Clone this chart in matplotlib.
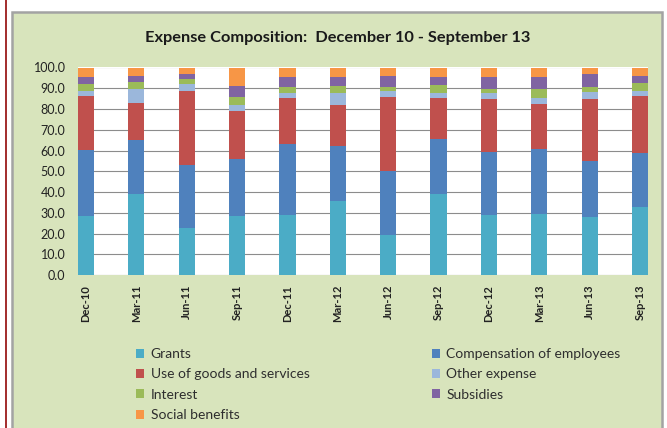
import numpy as np
import matplotlib
matplotlib.use("Agg")
import matplotlib.pyplot as plt
import matplotlib.patches as mpatches
from matplotlib.lines import Line2D

plt.rcParams["font.family"] = ["Lato", "DejaVu Sans"]

# ── data (percent of total expense) ─────────────────────────
quarters = ["Dec-10", "Mar-11", "Jun-11", "Sep-11", "Dec-11", "Mar-12",
            "Jun-12", "Sep-12", "Dec-12", "Mar-13", "Jun-13", "Sep-13"]

grants    = [28.2, 38.8, 22.8, 28.4, 28.9, 35.9, 19.1, 38.8, 28.7, 29.5, 27.9, 32.7]
comp_emp  = [31.9, 26.4, 30.3, 27.3, 34.1, 26.1, 31.1, 26.8, 30.8, 31.3, 27.1, 26.2]
goods     = [26.2, 17.9, 35.4, 23.3, 22.3, 19.8, 35.4, 19.7, 25.5, 21.7, 29.7, 27.4]
other_exp = [2.5, 6.4, 3.5, 2.8, 2.6, 5.8, 2.9, 2.3, 2.6, 2.8, 3.5, 2.2]
interest  = [3.2, 3.5, 2.3, 4.2, 2.5, 3.5, 2.2, 3.8, 2.2, 4.2, 2.2, 3.8]
subsidies = [3.5, 2.9, 2.5, 5.1, 5.1, 4.4, 5.2, 3.8, 5.7, 5.7, 6.4, 3.6]
social    = [4.5, 4.1, 3.2, 8.9, 4.5, 4.5, 4.1, 4.8, 4.5, 4.8, 3.2, 4.1]

series = [
    ("Grants",                    grants,    "#4BACC6"),
    ("Compensation of employees", comp_emp,  "#4F81BD"),
    ("Use of goods and services", goods,     "#C0504D"),
    ("Other expense",             other_exp, "#9BB7DB"),
    ("Interest",                  interest,  "#9BBB59"),
    ("Subsidies",                 subsidies, "#8064A2"),
    ("Social benefits",           social,    "#F79646"),
]

PANEL_BG = "#D8E4BC"

fig = plt.figure(figsize=(6.67, 4.28), dpi=100)
fig.patch.set_facecolor("white")

# outer decoration: dark red rule + green chart panel
fig.add_artist(Line2D([5.5 / 667, 5.5 / 667], [0, 1], color="#9B1B1B",
                      linewidth=1.3, transform=fig.transFigure))
fig.add_artist(mpatches.Rectangle((12 / 667, -0.01), 650 / 667, 1 - 12 / 428 + 0.01,
                                  transform=fig.transFigure, facecolor=PANEL_BG,
                                  edgecolor="#A3A3A3", linewidth=1.8, zorder=0))

ax = fig.add_axes([78 / 667, 1 - 275 / 428, 570 / 667, 207.5 / 428])
ax.set_facecolor("white")

x = np.arange(len(quarters))
width = 0.32
bottom = np.zeros(len(quarters))
handles = {}
for name, vals, color in series:
    vals = np.array(vals)
    b = ax.bar(x, vals, width=width, bottom=bottom, color=color,
               edgecolor="none", zorder=3)
    handles[name] = b
    bottom += vals

ax.set_xlim(-width / 2, len(quarters) - 1 + width / 2)
ax.set_ylim(0, 100)
ax.set_yticks(np.arange(0, 101, 10))
ax.set_yticklabels([f"{v:.1f}" for v in np.arange(0, 101, 10)], fontsize=9,
                   color="#222222")
ax.set_xticks(x)
ax.set_xticklabels(quarters, rotation=90, fontsize=8, fontweight="bold",
                   color="#222222")
ax.tick_params(length=0, pad=7)
ax.tick_params(axis="y", pad=9)
ax.yaxis.grid(True, color="#8C8C8C", linewidth=0.8, zorder=0)
for s in ax.spines.values():
    s.set_visible(False)

fig.text(338 / 667, 1 - 38 / 428, "Expense Composition:  December 10 - September 13",
         ha="center", va="center", fontsize=11.8, fontweight="bold",
         color="#1A1A1A")

order = ["Grants", "Use of goods and services", "Interest", "Social benefits",
         "Compensation of employees", "Other expense", "Subsidies"]
leg = fig.legend([handles[n] for n in order], order, ncol=2,
                 loc="upper left", bbox_to_anchor=(136 / 667, 1 - 348 / 428),
                 frameon=False, fontsize=10, handlelength=0.6, handleheight=0.6,
                 handletextpad=0.45, labelspacing=0.6, columnspacing=8.8,
                 borderaxespad=0, borderpad=0)
for t in leg.get_texts():
    t.set_color("#2E2E2E")

fig.savefig("out.png", dpi=100, facecolor="white")
